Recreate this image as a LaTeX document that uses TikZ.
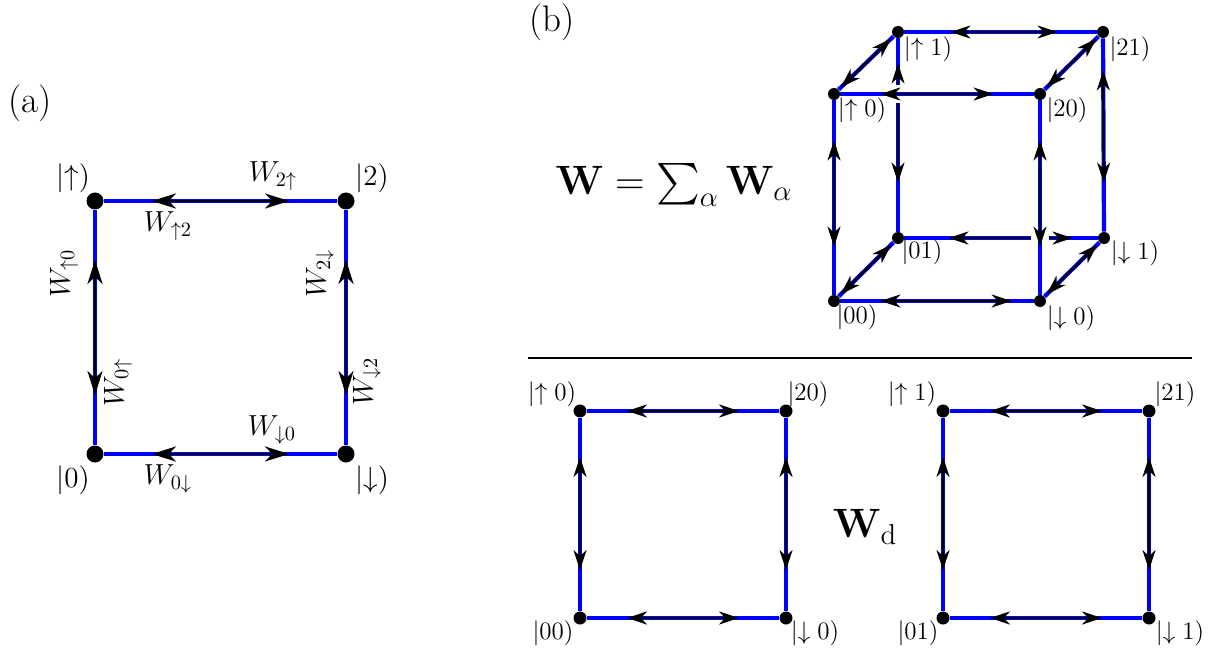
\RequirePackage{fix-cm}
\documentclass[tikz,border=0pt]{standalone}
\usepackage{exscale}
\usetikzlibrary{arrows.meta}
\definecolor{eblue}{RGB}{0,0,255}
\pgfdeclarelayer{bg}
\pgfsetlayers{bg,main}
\begin{document}
\begin{tikzpicture}[x=0.5pt,y=-0.5pt,
  edge/.style={draw=eblue, line width=2.1pt},
  dbl/.style={draw=black, line width=1.1pt, {Stealth[length=10pt,width=6.5pt,inset=3pt]}-{Stealth[length=10pt,width=6.5pt,inset=3pt]}},
  dbla/.style={draw=black, line width=1.2pt, {Stealth[length=12pt,width=7.5pt,inset=3.5pt]}-{Stealth[length=12pt,width=7.5pt,inset=3.5pt]}},
  bigdot/.style={circle, fill=black, inner sep=0pt, minimum size=8.5pt},
  dot/.style={circle, fill=black, inner sep=0pt, minimum size=6pt},
  mdot/.style={circle, fill=black, inner sep=0pt, minimum size=6.5pt},
  halo/.style={draw=white, line width=9pt, shorten <=14pt, shorten >=14pt},
  lbla/.style={font=\fontsize{14.5}{17}\selectfont, inner sep=0pt},
  lblb/.style={font=\fontsize{12.5}{15}\selectfont, inner sep=0pt},
  lblc/.style={font=\fontsize{20.5}{24}\selectfont, inner sep=0pt},
  tag/.style={font=\fontsize{18.5}{21}\selectfont, inner sep=0pt}]
\useasboundingbox (0,0) rectangle (1213,657);

% ---------- panel (a) ----------
\node[tag] (ta) at (30,103) {(a)};
\node[bigdot] (aU) at (95,201) {};
\node[bigdot] (a2) at (346,201) {};
\node[bigdot] (a0) at (95,454) {};
\node[bigdot] (aD) at (346,454) {};
\begin{pgfonlayer}{bg}
\draw[edge] (aU) -- (a2);
\draw[edge] (a2) -- (aD);
\draw[edge] (aD) -- (a0);
\draw[edge] (a0) -- (aU);
\draw[dbla, shorten <=24pt, shorten >=24pt] (aU) -- (a2);
\draw[dbla, shorten <=24pt, shorten >=24pt] (a0) -- (aD);
\draw[dbla, shorten <=25pt, shorten >=25pt] (aU) -- (a0);
\draw[dbla, shorten <=25pt, shorten >=25pt] (a2) -- (aD);
\end{pgfonlayer}
\node[lbla] (laU) at (73,178) {$|{\uparrow})$};
\node[lbla] (la2) at (372,178) {$|2)$};
\node[lbla] (la0) at (73,480) {$|0)$};
\node[lbla] (laD) at (372,480) {$|{\downarrow})$};
\node[lbla] (w2u) at (273,176) {$W_{2\uparrow}$};
\node[lbla] (wu2) at (168,226) {$W_{\uparrow 2}$};
\node[lbla] (wd0) at (272,430) {$W_{\downarrow 0}$};
\node[lbla] (w0d) at (168,479) {$W_{0\downarrow}$};
\node[lbla, rotate=90] (wu0) at (64,273) {$W_{\uparrow 0}$};
\node[lbla, rotate=90] (w0u) at (118,382) {$W_{0\uparrow}$};
\node[lbla, rotate=90] (w2d) at (320,273) {$W_{2\downarrow}$};
\node[lbla, rotate=90] (wd2) at (367,381) {$W_{\downarrow 2}$};

% ---------- panel (b): cube ----------
\node[tag] (tb) at (552,22) {(b)};
\node[lblc] (wsum) at (674,185) {$\mathbf{W}=\sum_{\alpha}\mathbf{W}_{\alpha}$};
\node[dot] (cU1) at (898,32) {};
\node[dot] (c21) at (1103,32) {};
\node[dot] (cU0) at (834,94) {};
\node[dot] (c20) at (1040,94) {};
\node[dot] (c01) at (898,238) {};
\node[dot] (cD1) at (1104,238) {};
\node[dot] (c00) at (834,301) {};
\node[dot] (cD0) at (1040,301) {};
\begin{pgfonlayer}{bg}
% back edges
\draw[edge] (cU1) -- (c21);
\draw[dbl, shorten <=23pt, shorten >=19.5pt] (cU1) -- (c21);
\draw[edge] (cU1) -- (c01);
\draw[dbl, shorten <=12.5pt, shorten >=24.5pt] (cU1) -- (c01);
\draw[edge] (c21) -- (cD1);
\draw[dbl, shorten <=16pt, shorten >=24.5pt] (c21) -- (cD1);
\draw[edge] (c01) -- (cD1);
\draw[dbl, shorten <=22pt, shorten >=12.5pt] (c01) -- (cD1);
% diagonals
\draw[edge] (cU0) -- (cU1);
\draw[dbl, shorten <=1.5pt, shorten >=1.5pt] (cU0) -- (cU1);
\draw[edge] (c20) -- (c21);
\draw[dbl, shorten <=1.5pt, shorten >=1.5pt] (c20) -- (c21);
\draw[edge] (c00) -- (c01);
\draw[dbl, shorten <=1.5pt, shorten >=1.5pt] (c00) -- (c01);
\draw[edge] (cD0) -- (cD1);
\draw[dbl, shorten <=1.5pt, shorten >=1.5pt] (cD0) -- (cD1);
% front edges
\draw[halo] (cU0) -- (c20);
\draw[halo] (c20) -- (cD0);
\draw[edge] (cU0) -- (c20);
\draw[dbl, shorten <=20pt, shorten >=20pt] (cU0) -- (c20);
\draw[edge] (c00) -- (cD0);
\draw[dbl, shorten <=20pt, shorten >=11pt] (c00) -- (cD0);
\draw[edge] (cU0) -- (c00);
\draw[dbl, shorten <=20pt, shorten >=24pt] (cU0) -- (c00);
\draw[edge] (c20) -- (cD0);
\draw[dbl, shorten <=20pt, shorten >=24pt] (c20) -- (cD0);
\end{pgfonlayer}
\node[lblb] (lcU1) at (928,49) {$|{\uparrow}\;1)$};
\node[lblb] (lc21) at (1130,49) {$|21)$};
\node[lblb] (lcU0) at (862,110) {$|{\uparrow}\;0)$};
\node[lblb] (lc20) at (1067,110) {$|20)$};
\node[lblb] (lc01) at (922,252) {$|01)$};
\node[lblb] (lcD1) at (1135,253) {$|{\downarrow}\;1)$};
\node[lblb] (lc00) at (857,317) {$|00)$};
\node[lblb] (lcD0) at (1071,318) {$|{\downarrow}\;0)$};

% separator
\coordinate (r1) at (528,358);
\coordinate (r2) at (1192,358);
\draw[line width=0.6pt] (r1) -- (r2);

% ---------- bottom squares ----------
\node[mdot] (sU0) at (580,411) {};
\node[mdot] (s20) at (786,411) {};
\node[mdot] (s00) at (580,618) {};
\node[mdot] (sD0) at (786,618) {};
\node[mdot] (tU1) at (943,411) {};
\node[mdot] (t21) at (1149,411) {};
\node[mdot] (t01) at (943,618) {};
\node[mdot] (tD1) at (1149,618) {};
\begin{pgfonlayer}{bg}
\foreach \p/\q in {sU0/s20, s00/sD0, tU1/t21, t01/tD1}{
  \draw[edge] (\p) -- (\q);
  \draw[dbl, shorten <=20pt, shorten >=20pt] (\p) -- (\q);
}
\foreach \p/\q in {sU0/s00, s20/sD0, tU1/t01, t21/tD1}{
  \draw[edge] (\p) -- (\q);
  \draw[dbl, shorten <=19.5pt, shorten >=20.5pt] (\p) -- (\q);
}
\end{pgfonlayer}
\node[lblb] (lsU0) at (552,394) {$|{\uparrow}\;0)$};
\node[lblb] (ls20) at (808,394) {$|20)$};
\node[lblb] (ls00) at (553,633) {$|00)$};
\node[lblb] (lsD0) at (815,633) {$|{\downarrow}\;0)$};
\node[lblb] (ltU1) at (912,394) {$|{\uparrow}\;1)$};
\node[lblb] (lt21) at (1175,394) {$|21)$};
\node[lblb] (lt01) at (918,633) {$|01)$};
\node[lblb] (ltD1) at (1180,633) {$|{\downarrow}\;1)$};
\node[lblc] (wd) at (865,527) {$\mathbf{W}_{\mathrm{d}}$};
\end{tikzpicture}
\end{document}
